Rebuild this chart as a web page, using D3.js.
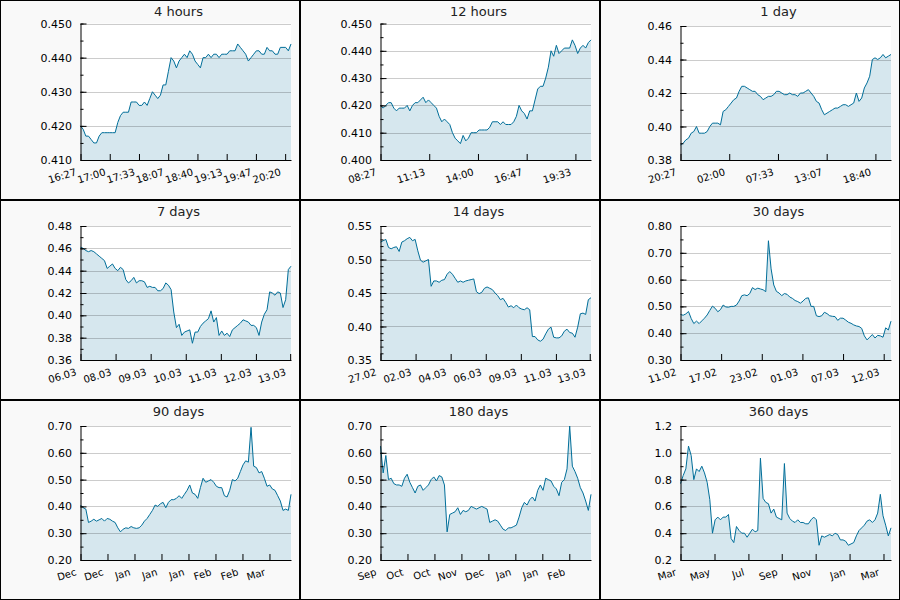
<!DOCTYPE html>
<html>
<head>
<meta charset="utf-8">
<script src="https://cdn.jsdelivr.net/npm/d3@7"></script>
<style>
  html, body { margin: 0; padding: 0; background: #ffffff; }
  svg { display: block; }
</style>
</head>
<body>
<svg id="chart" width="900" height="600"></svg>
<script>
// ---------------- DATA ----------------
const titles = ["4 hours", "12 hours", "1 day", "7 days", "14 days", "30 days", "90 days", "180 days", "360 days"];

const domainEnd = "2023-03-13T20:27:00Z";
const domainStarts = [
  "2023-03-13T16:27:00Z", "2023-03-13T08:27:00Z", "2023-03-12T20:27:00Z",
  "2023-03-06T20:27:00Z", "2023-02-27T20:27:00Z", "2023-02-11T20:27:00Z",
  "2022-12-13T20:27:00Z", "2022-09-14T20:27:00Z", "2022-03-18T20:27:00Z"
];

// x tick times and labels
const xTicks1 = ["2023-03-13T16:27:00Z","2023-03-13T17:00:20Z","2023-03-13T17:33:40Z","2023-03-13T18:07:00Z","2023-03-13T18:40:20Z","2023-03-13T19:13:40Z","2023-03-13T19:47:00Z","2023-03-13T20:20:20Z"];
const xLabels1 = ["16:27","17:00","17:33","18:07","18:40","19:13","19:47","20:20"];
const xTicks2 = ["2023-03-13T08:27:00Z","2023-03-13T11:13:40Z","2023-03-13T14:00:20Z","2023-03-13T16:47:00Z","2023-03-13T19:33:40Z"];
const xLabels2 = ["08:27","11:13","14:00","16:47","19:33"];
const xTicks3 = ["2023-03-12T20:27:00Z","2023-03-13T02:00:20Z","2023-03-13T07:33:40Z","2023-03-13T13:07:00Z","2023-03-13T18:40:20Z"];
const xLabels3 = ["20:27","02:00","07:33","13:07","18:40"];
const xTicks4 = ["2023-03-06T20:27:00Z","2023-03-08T00:27:00Z","2023-03-09T04:27:00Z","2023-03-10T08:27:00Z","2023-03-11T12:27:00Z","2023-03-12T16:27:00Z","2023-03-13T19:47:00Z"];
const xLabels4 = ["06.03","08.03","09.03","10.03","11.03","12.03","13.03"];
const xTicks5 = ["2023-02-27T20:27:00Z","2023-03-02T04:27:00Z","2023-03-04T12:27:00Z","2023-03-06T20:27:00Z","2023-03-09T04:27:00Z","2023-03-11T12:27:00Z","2023-03-13T18:27:00Z"];
const xLabels5 = ["27.02","02.03","04.03","06.03","09.03","11.03","13.03"];
const xTicks6 = ["2023-02-11T20:27:00Z","2023-02-17T15:27:00Z","2023-02-23T10:27:00Z","2023-03-01T05:27:00Z","2023-03-07T00:27:00Z","2023-03-12T19:27:00Z"];
const xLabels6 = ["11.02","17.02","23.02","01.03","07.03","12.03"];
const xTicks7 = ["2022-12-13T20:27:00Z","2022-12-25T09:27:00Z","2023-01-05T22:27:00Z","2023-01-17T11:27:00Z","2023-01-29T00:27:00Z","2023-02-09T13:27:00Z","2023-02-21T02:27:00Z","2023-03-04T15:27:00Z"];
const xLabels7 = ["Dec","Dec","Jan","Jan","Jan","Feb","Feb","Mar"];
const xTicks8 = ["2022-09-14T20:27:00Z","2022-10-07T22:00:00Z","2022-10-30T23:30:00Z","2022-11-23T01:00:00Z","2022-12-16T02:30:00Z","2023-01-08T04:00:00Z","2023-01-31T05:30:00Z","2023-02-23T07:00:00Z"];
const xLabels8 = ["Sep","Oct","Oct","Nov","Dec","Jan","Jan","Feb"];
const xTicks9 = ["2022-03-18T20:27:00Z","2022-05-16T00:00:00Z","2022-07-13T00:00:00Z","2022-09-08T00:00:00Z","2022-11-05T00:00:00Z","2023-01-02T00:00:00Z","2023-03-01T00:00:00Z"];
const xLabels9 = ["Mar","May","Jul","Sep","Nov","Jan","Mar"];

// y axis domains, ticks, labels, minor step
const yDomains = [[0.41,0.45],[0.40,0.45],[0.38,0.46],[0.36,0.48],[0.35,0.55],[0.30,0.80],[0.20,0.70],[0.20,0.70],[0.2,1.2]];
const yTicks1 = [0.410,0.420,0.430,0.440,0.450];
const yLabels1 = ["0.410","0.420","0.430","0.440","0.450"];
const yTicks2 = [0.400,0.410,0.420,0.430,0.440,0.450];
const yLabels2 = ["0.400","0.410","0.420","0.430","0.440","0.450"];
const yTicks3 = [0.38,0.40,0.42,0.44,0.46];
const yLabels3 = ["0.38","0.40","0.42","0.44","0.46"];
const yTicks4 = [0.36,0.38,0.40,0.42,0.44,0.46,0.48];
const yLabels4 = ["0.36","0.38","0.40","0.42","0.44","0.46","0.48"];
const yTicks5 = [0.35,0.40,0.45,0.50,0.55];
const yLabels5 = ["0.35","0.40","0.45","0.50","0.55"];
const yTicks6 = [0.30,0.40,0.50,0.60,0.70,0.80];
const yLabels6 = ["0.30","0.40","0.50","0.60","0.70","0.80"];
const yTicks7 = [0.20,0.30,0.40,0.50,0.60,0.70];
const yLabels7 = ["0.20","0.30","0.40","0.50","0.60","0.70"];
const yTicks8 = [0.20,0.30,0.40,0.50,0.60,0.70];
const yLabels8 = ["0.20","0.30","0.40","0.50","0.60","0.70"];
const yTicks9 = [0.2,0.4,0.6,0.8,1.0,1.2];
const yLabels9 = ["0.2","0.4","0.6","0.8","1.0","1.2"];
const yMinorSteps = [0.005,0.005,0.01,0.01,0.01,0.05,0.05,0.05,0.1];

// price series (evenly spaced in time across each panel's range)
const values1 = [0.420,0.419,0.417,0.417,0.416,0.415,0.415,0.417,0.418,0.418,0.418,0.418,0.418,0.418,0.421,0.423,0.424,0.424,0.424,0.427,
0.427,0.427,0.426,0.426,0.427,0.426,0.428,0.430,0.429,0.428,0.429,0.432,0.432,0.436,0.440,0.439,0.437,0.439,0.440,0.441,
0.440,0.442,0.441,0.439,0.438,0.437,0.440,0.440,0.441,0.440,0.441,0.441,0.440,0.441,0.441,0.441,0.442,0.442,0.442,0.444,
0.443,0.442,0.441,0.439,0.440,0.441,0.442,0.442,0.441,0.441,0.443,0.442,0.442,0.441,0.441,0.443,0.443,0.443,0.442,0.444];

const values2 = [0.420,0.419,0.420,0.421,0.421,0.419,0.418,0.419,0.419,0.419,0.420,0.418,0.420,0.421,0.421,0.422,0.423,0.421,0.422,0.421,
0.420,0.419,0.416,0.414,0.415,0.414,0.413,0.410,0.408,0.407,0.406,0.409,0.407,0.408,0.410,0.410,0.410,0.411,0.411,0.411,
0.411,0.412,0.414,0.414,0.414,0.413,0.414,0.413,0.413,0.413,0.414,0.416,0.420,0.418,0.417,0.415,0.418,0.418,0.422,0.426,
0.427,0.427,0.430,0.434,0.440,0.438,0.442,0.439,0.440,0.441,0.441,0.441,0.444,0.442,0.439,0.441,0.442,0.441,0.443,0.444];

const values3 = [0.389,0.390,0.392,0.393,0.396,0.397,0.400,0.396,0.396,0.396,0.397,0.400,0.402,0.402,0.402,0.401,0.409,0.410,0.412,0.414,
0.416,0.417,0.421,0.424,0.424,0.423,0.422,0.421,0.421,0.419,0.418,0.416,0.417,0.418,0.418,0.419,0.421,0.421,0.420,0.419,
0.419,0.420,0.419,0.419,0.418,0.420,0.420,0.421,0.422,0.420,0.418,0.415,0.414,0.410,0.407,0.408,0.409,0.410,0.411,0.411,
0.412,0.413,0.413,0.412,0.413,0.414,0.420,0.415,0.417,0.423,0.426,0.430,0.440,0.441,0.440,0.441,0.443,0.441,0.442,0.443];

const values4 = [0.461,0.460,0.458,0.457,0.458,0.457,0.455,0.453,0.451,0.449,0.442,0.444,0.446,0.442,0.440,0.443,0.441,0.432,0.429,0.431,
0.434,0.429,0.431,0.431,0.430,0.425,0.426,0.425,0.425,0.422,0.422,0.424,0.429,0.427,0.423,0.403,0.389,0.392,0.382,0.385,
0.386,0.387,0.375,0.385,0.385,0.390,0.393,0.395,0.397,0.404,0.394,0.398,0.382,0.386,0.382,0.384,0.381,0.387,0.389,0.391,
0.393,0.396,0.395,0.394,0.391,0.391,0.389,0.382,0.394,0.401,0.405,0.421,0.420,0.418,0.421,0.420,0.407,0.414,0.441,0.444];

const values5 = [0.526,0.528,0.530,0.518,0.516,0.518,0.519,0.512,0.526,0.528,0.531,0.533,0.528,0.530,0.513,0.499,0.496,0.498,0.500,0.460,
0.468,0.468,0.466,0.469,0.470,0.478,0.482,0.478,0.472,0.466,0.468,0.466,0.468,0.469,0.470,0.471,0.452,0.449,0.451,0.457,
0.459,0.457,0.455,0.450,0.446,0.440,0.442,0.436,0.429,0.431,0.428,0.432,0.428,0.426,0.425,0.428,0.425,0.385,0.385,0.380,
0.378,0.381,0.389,0.396,0.399,0.384,0.383,0.383,0.386,0.393,0.396,0.391,0.390,0.384,0.399,0.419,0.420,0.418,0.440,0.443];

const values6 = [0.470,0.467,0.472,0.481,0.455,0.436,0.445,0.436,0.446,0.456,0.468,0.485,0.501,0.493,0.480,0.488,0.505,0.498,0.497,0.500,
0.500,0.505,0.520,0.540,0.543,0.540,0.548,0.570,0.563,0.568,0.565,0.562,0.555,0.745,0.640,0.580,0.556,0.550,0.540,0.548,
0.545,0.535,0.530,0.522,0.518,0.512,0.520,0.530,0.532,0.500,0.500,0.465,0.462,0.465,0.478,0.473,0.465,0.463,0.462,0.448,
0.456,0.456,0.449,0.441,0.437,0.431,0.427,0.425,0.418,0.390,0.375,0.385,0.395,0.382,0.392,0.390,0.385,0.420,0.412,0.445];

const values7 = [0.405,0.395,0.390,0.340,0.345,0.352,0.345,0.350,0.355,0.345,0.355,0.352,0.345,0.340,0.320,0.305,0.315,0.320,0.318,0.325,
0.320,0.318,0.320,0.330,0.345,0.355,0.370,0.385,0.405,0.400,0.410,0.415,0.395,0.415,0.425,0.425,0.430,0.440,0.430,0.445,
0.460,0.480,0.450,0.445,0.430,0.470,0.505,0.490,0.495,0.500,0.490,0.475,0.470,0.470,0.440,0.435,0.460,0.500,0.495,0.505,
0.530,0.555,0.570,0.565,0.695,0.550,0.545,0.525,0.530,0.505,0.475,0.480,0.465,0.460,0.440,0.420,0.385,0.390,0.385,0.445];

const values8 = [0.625,0.525,0.590,0.500,0.505,0.485,0.480,0.480,0.475,0.505,0.520,0.490,0.470,0.450,0.475,0.480,0.460,0.470,0.480,0.500,
0.510,0.495,0.515,0.510,0.480,0.305,0.370,0.375,0.380,0.395,0.370,0.385,0.380,0.385,0.400,0.395,0.390,0.395,0.400,0.395,
0.390,0.340,0.345,0.350,0.345,0.330,0.315,0.310,0.320,0.320,0.325,0.330,0.360,0.395,0.415,0.405,0.425,0.435,0.420,0.460,
0.480,0.460,0.505,0.500,0.495,0.475,0.465,0.440,0.490,0.500,0.540,0.700,0.550,0.530,0.505,0.470,0.450,0.420,0.385,0.445];

const values9 = [0.77,0.83,0.88,1.05,0.98,0.80,0.88,0.86,0.90,0.85,0.78,0.65,0.40,0.50,0.52,0.50,0.52,0.52,0.54,0.36,
0.33,0.45,0.42,0.40,0.40,0.37,0.40,0.43,0.41,0.42,0.96,0.66,0.63,0.62,0.55,0.58,0.52,0.51,0.50,0.92,
0.55,0.51,0.49,0.48,0.50,0.48,0.48,0.47,0.47,0.50,0.52,0.50,0.31,0.38,0.37,0.38,0.39,0.38,0.40,0.39,
0.35,0.35,0.34,0.31,0.32,0.33,0.38,0.42,0.44,0.46,0.49,0.50,0.48,0.50,0.55,0.69,0.53,0.46,0.38,0.44];

// ---------------- BUILD ----------------
const seriesList = [values1, values2, values3, values4, values5, values6, values7, values8, values9];
const xTickList = [xTicks1, xTicks2, xTicks3, xTicks4, xTicks5, xTicks6, xTicks7, xTicks8, xTicks9];
const xLabelList = [xLabels1, xLabels2, xLabels3, xLabels4, xLabels5, xLabels6, xLabels7, xLabels8, xLabels9];
const yTickList = [yTicks1, yTicks2, yTicks3, yTicks4, yTicks5, yTicks6, yTicks7, yTicks8, yTicks9];
const yLabelList = [yLabels1, yLabels2, yLabels3, yLabels4, yLabels5, yLabels6, yLabels7, yLabels8, yLabels9];

const CELL_W = 300, CELL_H = 200;
const PLOT_LEFT = 80.5, PLOT_RIGHT = 291, PLOT_BOTTOM = 160;
const plotTops = [23.5, 23.5, 26, 26, 26, 26, 26, 26, 26];
const FONT = "'DejaVu Sans', sans-serif";
const LINE_COLOR = "#006e99";
const FILL_COLOR = "#d6e7ee";

const svg = d3.select("#chart");

titles.forEach((title, p) => {
  const col = p % 3, row = Math.floor(p / 3);
  const g = svg.append("g").attr("transform", `translate(${col * CELL_W},${row * CELL_H})`);

  // cell background + border
  g.append("rect")
    .attr("x", 0.5).attr("y", 0.5)
    .attr("width", CELL_W - 1).attr("height", CELL_H - 1)
    .attr("fill", "#f9f9f9").attr("stroke", "#000").attr("stroke-width", 1);

  const top = plotTops[p];
  const start = new Date(domainStarts[p]);
  const end = new Date(domainEnd);
  const x = d3.scaleUtc().domain([start, end]).range([PLOT_LEFT, PLOT_RIGHT]);
  const y = d3.scaleLinear().domain(yDomains[p]).range([PLOT_BOTTOM, top]);

  // plot background
  g.append("rect")
    .attr("x", PLOT_LEFT).attr("y", top)
    .attr("width", PLOT_RIGHT - PLOT_LEFT).attr("height", PLOT_BOTTOM - top)
    .attr("fill", "#ffffff");

  const vals = seriesList[p];
  const n = vals.length;
  const span = end - start;
  const pts = vals.map((v, i) => ({ t: new Date(+start + span * i / (n - 1)), v }));

  const area = d3.area()
    .x(d => x(d.t))
    .y0(y(yDomains[p][0]))
    .y1(d => y(d.v));
  g.append("path").datum(pts).attr("d", area).attr("fill", FILL_COLOR);

  // gridlines
  g.append("g").selectAll("line")
    .data(yTickList[p].filter(d => d !== yDomains[p][0]))
    .join("line")
    .attr("x1", PLOT_LEFT).attr("x2", PLOT_RIGHT)
    .attr("y1", d => Math.round(y(d)) + 0.5).attr("y2", d => Math.round(y(d)) + 0.5)
    .attr("stroke", "rgba(0,0,0,0.2)").attr("stroke-width", 1);

  const line = d3.line().x(d => x(d.t)).y(d => y(d.v));
  g.append("path").datum(pts).attr("d", line)
    .attr("fill", "none").attr("stroke", LINE_COLOR).attr("stroke-width", 1)
    .attr("stroke-linejoin", "round");

  // minor y ticks
  const [y0, y1] = yDomains[p];
  const step = yMinorSteps[p];
  const minor = d3.range(Math.round((y1 - y0) / step) + 1).map(k => y0 + k * step);
  g.append("g")
    .attr("transform", `translate(${PLOT_LEFT},0)`)
    .call(d3.axisLeft(y).tickValues(minor).tickSizeInner(-3).tickSizeOuter(0).tickFormat(""))
    .call(s => s.select(".domain").remove())
    .selectAll("line").attr("stroke", "#000");

  // major y axis
  const yLabels = yLabelList[p];
  const yAxis = g.append("g")
    .attr("transform", `translate(${PLOT_LEFT},0)`)
    .call(d3.axisLeft(y).tickValues(yTickList[p]).tickSizeInner(-6).tickSizeOuter(0)
      .tickPadding(8.5).tickFormat((d, i) => yLabels[i]));
  yAxis.selectAll("text").attr("font-family", FONT).attr("font-size", 11).attr("fill", "#000");
  yAxis.selectAll("line, path").attr("stroke", "#000");

  // x axis
  const xt = xTickList[p].map(s => new Date(s));
  const xLabels = xLabelList[p];
  const xAxis = g.append("g")
    .attr("transform", `translate(0,${PLOT_BOTTOM})`)
    .call(d3.axisBottom(x).tickValues(xt).tickSizeInner(-6).tickSizeOuter(0)
      .tickFormat((d, i) => xLabels[i]));
  xAxis.selectAll("line, path").attr("stroke", "#000");
  xAxis.selectAll("text")
    .attr("font-family", FONT).attr("font-size", 10).attr("fill", "#000")
    .attr("x", 0).attr("y", 0).attr("dy", null)
    .attr("text-anchor", "end")
    .attr("transform", "translate(-4,15) rotate(-17)");

  // title
  g.append("text")
    .attr("x", 178.5).attr("y", 16)
    .attr("text-anchor", "middle")
    .attr("font-family", FONT).attr("font-size", 13).attr("fill", "#222")
    .text(title);
});
</script>
</body>
</html>
